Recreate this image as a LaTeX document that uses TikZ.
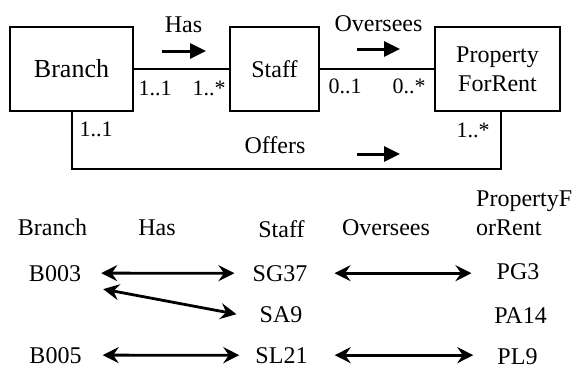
\documentclass[tikz,border=0pt]{standalone}
\usepackage{fontspec}
\setmainfont{Liberation Serif}
\usetikzlibrary{arrows.meta}
\begin{document}
\begin{tikzpicture}[x=1pt,y=-1pt,
  box/.style={draw,line width=2pt,inner sep=0pt,align=center,font=\fontsize{24}{29}\selectfont},
  lbl/.style={inner sep=0pt,anchor=base,font=\fontsize{24}{29}\selectfont},
  mult/.style={inner sep=0pt,anchor=base,font=\fontsize{22}{26}\selectfont},
  link/.style={line width=2pt},
  dirarr/.style={line width=3pt,-{Triangle[length=16pt,width=15pt]}},
  dbl/.style={line width=2.8pt,{Stealth[length=16pt,width=16pt,inset=5.5pt]}-{Stealth[length=16pt,width=16pt,inset=5.5pt]}}]
\useasboundingbox (0,0) rectangle (574,370);
% top diagram
\node[box,minimum width=123pt,minimum height=84pt,font=\fontsize{26}{30}\selectfont] (branch) at (71.5,69) {Branch};
\node[box,minimum width=89pt,minimum height=84pt] (staff) at (274.5,69) {Staff};
\node[box,minimum width=125pt,minimum height=84pt] (pfr) at (497.5,69) {Property\\ForRent};
\draw[link] (branch.east) -- (staff.west);
\draw[link] (staff.east) -- (pfr.west);
\draw[link] (branch.south) -- ++(0,57) -| ([xshift=3pt]pfr.south);
\node[lbl] (has) at (183.5,32) {Has};
\node[lbl] (oversees) at (378.5,31) {Oversees};
\node[lbl] (offers) at (275,153) {Offers};
\coordinate (ha1) at (162,51); \coordinate (ha2) at (206,51);
\coordinate (oa1) at (357,49); \coordinate (oa2) at (400,49);
\coordinate (fa1) at (357,154); \coordinate (fa2) at (400,154);
\draw[dirarr] (ha1) -- (ha2);
\draw[dirarr] (oa1) -- (oa2);
\draw[dirarr] (fa1) -- (fa2);
\node[mult] (m1) at (155,95) {1..1};
\node[mult] (m2) at (209,95) {1..*};
\node[mult] (m3) at (345,93) {0..1};
\node[mult] (m4) at (409,93) {0..*};
\node[mult] (m5) at (96,136) {1..1};
\node[mult] (m6) at (473,137) {1..*};
% bottom instances
\node[lbl] (hb) at (52.5,235) {Branch};
\node[lbl] (hh) at (157,235) {Has};
\node[lbl] (hs) at (281.5,237) {Staff};
\node[lbl] (ho) at (386,235) {Oversees};
\node[lbl,anchor=base west,align=left] (hp) at (476,235) {PropertyF\\orRent};
\node[lbl] (b003) at (55,281) {B003};
\node[lbl] (b005) at (55.5,363) {B005};
\node[lbl] (sg37) at (280,281) {SG37};
\node[lbl] (sa9) at (281,322) {SA9};
\node[lbl] (sl21) at (281.5,363) {SL21};
\node[lbl] (pg3) at (518,279) {PG3};
\node[lbl] (pa14) at (520.5,323) {PA14};
\node[lbl] (pl9) at (517.5,364) {PL9};
\draw[dbl,shorten <=20pt,shorten >=18pt] (b003.east) -- (sg37.west);
\draw[dbl] ([shift={(22pt,-16pt)}]b003.east) -- ([shift={(-23pt,0pt)}]sa9.west);
\draw[dbl,shorten <=21pt,shorten >=16pt] (b005.east) -- (sl21.west);
\draw[dbl,shorten <=27pt,shorten >=25pt] (sg37.east) -- (sg37.east -| pg3.west);
\draw[dbl,shorten <=27pt,shorten >=24pt] (sl21.east) -- (sl21.east -| pl9.west);
\end{tikzpicture}
\end{document}
